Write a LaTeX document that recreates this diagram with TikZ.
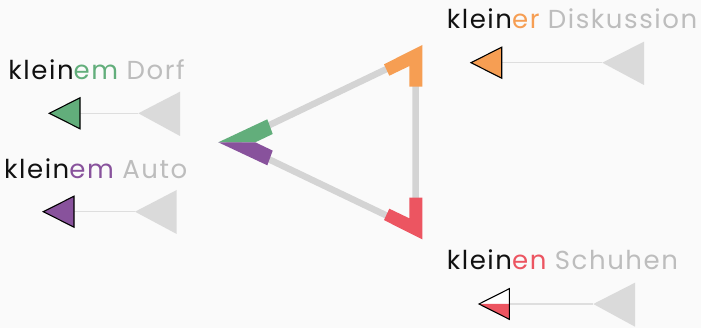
\documentclass[tikz,border=0pt]{standalone}
\usepackage{fontspec}
\setmainfont{Poppins}[LetterSpace=6]
\definecolor{bg}{HTML}{FAFAFA}
\definecolor{cgreen}{HTML}{62AE7B}
\definecolor{cpurple}{HTML}{88529C}
\definecolor{corange}{HTML}{F69E53}
\definecolor{cred}{HTML}{EC5561}
\definecolor{edgegray}{HTML}{D4D4D4}
\definecolor{biggray}{HTML}{DADADA}
\definecolor{thingray}{HTML}{DEDEDE}
\definecolor{nountext}{HTML}{BDBDBD}
\definecolor{stemtext}{HTML}{111111}
\begin{document}
\begin{tikzpicture}[x=1pt,y=-1pt,
  lbl/.style={anchor=base west,inner sep=0pt,font=\fontsize{26}{29}\selectfont},
  edge/.style={draw=edgegray,line width=6.5pt},
  small/.style={draw=black,line width=1.1pt,line join=miter},
  bigtri/.style={fill=biggray},
  thin/.style={draw=thingray,line width=1.4pt}]
\fill[bg] (0,0) rectangle (701,328);
\useasboundingbox (0,0) rectangle (701,328);

% central triangle
\coordinate (gl) at (233.4,142.3);
\coordinate (gt) at (415.5,55.2);
\coordinate (gb) at (415.5,229.4);
\draw[edge] (gl) -- (gt) -- (gb) -- cycle;
\fill[cgreen] (218.3,142.3) -- (267.3,119.3) -- (272.7,134) -- (255.3,142.3) -- cycle;
\fill[cpurple] (218.3,142.3) -- (267.3,165.3) -- (272.7,150.6) -- (255.3,142.3) -- cycle;
\fill[corange] (422.3,45) -- (384,64.3) -- (389.3,75.7) -- (409.3,66.1) -- (409.3,86.7) -- (422.3,86.7) -- cycle;
\fill[cred] (422.3,239.4) -- (384,220.1) -- (389.3,208.7) -- (409.3,218.3) -- (409.3,197.7) -- (422.3,197.7) -- cycle;

% labels
\node[lbl] (t1) at (8.3,79.3) {{\color{stemtext}klein}{\color{cgreen}em} {\color{nountext}Dorf}};
\node[lbl] (t2) at (4,178.3) {{\color{stemtext}klein}{\color{cpurple}em} {\color{nountext}Auto}};
\node[lbl] (t3) at (446.7,28.3) {{\color{stemtext}klein}{\color{corange}er} {\color{nountext}Diskussion}};
\node[lbl] (t4) at (446.7,270) {{\color{stemtext}klein}{\color{cred}en} {\color{nountext}Schuhen}};

% legend arrows
% Dorf
\coordinate (s1) at (80,113.3);
\coordinate (b1) at (138.3,113.3);
\fill[bigtri] (b1) -- (180,91.7) -- (180,136) -- cycle;
\draw[thin] (s1) -- (b1);
\filldraw[small,fill=cgreen] (49.3,113.3) -- (80,97.8) -- (80,128.8) -- cycle;
% Auto
\coordinate (s2) at (74,211.7);
\coordinate (b2) at (135,211.7);
\fill[bigtri] (b2) -- (176.7,190) -- (176.7,234) -- cycle;
\draw[thin] (s2) -- (b2);
\filldraw[small,fill=cpurple] (43.3,211.7) -- (74,196.2) -- (74,227.2) -- cycle;
% Diskussion
\coordinate (s3) at (501.7,62.7);
\coordinate (b3) at (602.3,62.7);
\fill[bigtri] (b3) -- (644,41.7) -- (644,85) -- cycle;
\draw[thin] (s3) -- (b3);
\filldraw[small,fill=corange] (471,62.7) -- (501.7,47.2) -- (501.7,78.2) -- cycle;
% Schuhen
\coordinate (s4) at (509.3,304);
\coordinate (b4) at (593.3,304);
\fill[bigtri] (b4) -- (635,282.7) -- (635,326.7) -- cycle;
\draw[thin] (s4) -- (b4);
\fill[white] (479,304) -- (509.3,288.7) -- (509.3,304) -- cycle;
\fill[cred] (479,304) -- (509.3,319.3) -- (509.3,304) -- cycle;
\draw[small] (479,304) -- (509.3,288.7) -- (509.3,319.3) -- cycle;
\end{tikzpicture}
\end{document}
